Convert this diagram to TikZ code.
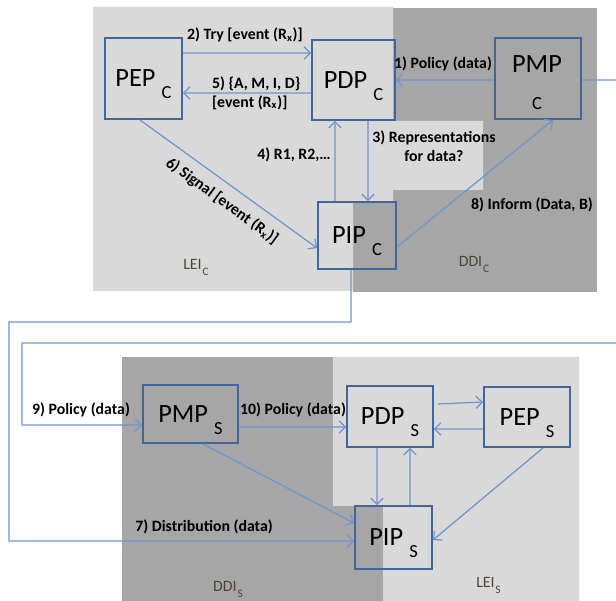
\documentclass[tikz,border=0pt]{standalone}
\usepackage{fontspec}
\setmainfont{Carlito}
\usetikzlibrary{arrows.meta,calc}
\definecolor{lightbg}{HTML}{D9D9D9}
\definecolor{darkbg}{HTML}{A6A6A6}
\definecolor{boxblue}{HTML}{41669C}
\definecolor{linkblue}{HTML}{6E96CF}
\definecolor{regtext}{HTML}{4F4631}
\newcommand\boxsub[1]{\kern3.5pt\smash{\raisebox{-6.8pt}{\fontsize{10.5}{10.5}\selectfont #1}}}
\newcommand\regsub[1]{\kern0.5pt\smash{\raisebox{-3.5pt}{\fontsize{6.5}{7}\selectfont #1}}}
\begin{document}
\begin{tikzpicture}[x=0.02cm,y=-0.02cm,
  agent/.style={draw=boxblue,line width=1.1pt,inner sep=0pt,font=\fontsize{15}{17}\selectfont,text=black},
  conn/.style={draw=linkblue,line width=0.7pt},
  arr/.style={conn,-{Straight Barb[length=3.5pt,width=7pt]}},
  lbl/.style={font=\fontsize{9}{10.8}\selectfont\bfseries,text=black,inner sep=1pt},
  reg/.style={font=\fontsize{9}{10}\selectfont,text=regtext,inner sep=0pt}]
\useasboundingbox (0,0) rectangle (616,601);
% backgrounds top
\fill[darkbg] (353,8) rectangle (597,292);
\fill[lightbg] (93,7) -- (393,7) -- (393,121) -- (483,121) -- (483,190) -- (393,190) -- (393,202) -- (353,202) -- (353,291) -- (93,291) -- cycle;
% backgrounds bottom
\fill[darkbg] (122,357) rectangle (579,601);
\fill[lightbg] (333,357) -- (579,357) -- (579,601) -- (383,601) -- (383,506) -- (333,506) -- cycle;

% nodes top
\node[agent,minimum width=1.54cm,minimum height=1.62cm] (pepc) at (143.5,78.5) {PEP\boxsub{C}};
\node[agent,minimum width=1.66cm,minimum height=1.60cm] (pdpc) at (353.5,80) {PDP\boxsub{C}};
\node[agent,minimum width=1.72cm,minimum height=1.62cm] (pmpc) at (538,78.5) {};
\node[font=\fontsize{15}{17}\selectfont,inner sep=0pt] (pmpct) at (537,64) {PMP};
\node[font=\fontsize{10.5}{10.5}\selectfont,inner sep=0pt] (pmpcs) at (537,104) {C};
\node[agent,minimum width=1.56cm,minimum height=1.34cm] (pipc) at (357,235.5) {PIP\boxsub{C}};

% nodes bottom
\node[agent,minimum width=1.90cm,minimum height=1.16cm] (pmps) at (190.5,414) {PMP\boxsub{S}};
\node[agent,minimum width=1.72cm,minimum height=1.22cm] (pdps) at (390,416.5) {PDP\boxsub{S}};
\node[agent,minimum width=1.72cm,minimum height=1.20cm] (peps) at (527,417) {PEP\boxsub{S}};
\node[agent,minimum width=1.54cm,minimum height=1.26cm] (pips) at (393.5,537.5) {PIP\boxsub{S}};

% region labels
\node[reg] (leic) at (196,264) {LEI\regsub{C}};
\node[reg] (ddic) at (474,261) {DDI\regsub{C}};
\node[reg] (ddis) at (228,586) {DDI\regsub{S}};
\node[reg] (leis) at (488.5,582.5) {LEI\regsub{S}};

% connectors top
\draw[arr] ([yshift=-0.03cm]pmpc.west) -- (pdpc.east);
\draw[arr] ([yshift=0.51cm]pepc.east) -- ([yshift=0.54cm]pdpc.west);
\draw[arr] ([yshift=-0.26cm]pdpc.west) -- ([yshift=-0.29cm]pepc.east);
\draw[arr] ([xshift=0.29cm]pdpc.south) -- ([xshift=0.22cm]pipc.north);
\draw[arr] ([xshift=-0.44cm]pipc.north) -- ([xshift=-0.37cm]pdpc.south);
\draw[arr] ([xshift=-0.07cm]pepc.south) -- ([yshift=-0.25cm]pipc.west);
\draw[arr] ([yshift=-0.23cm]pipc.east) -- ([xshift=0.30cm]pmpc.south);

% wrap connectors
\coordinate (wrapA) at (632,80);
\coordinate (wrapB) at (632,343);
\coordinate (wrapC) at (22,343);
\draw[arr] ([yshift=-0.03cm]pmpc.east) -- (wrapA) -- (wrapB) -- (wrapC) |- ([yshift=-0.22cm]pmps.west);
\coordinate (distA) at (351,322);
\coordinate (distB) at (9,322);
\draw[arr] ([xshift=-0.12cm]pipc.south) -- (distA) -- (distB) |- ([yshift=-0.07cm]pips.west);

% connectors bottom
\draw[arr] ([yshift=-0.26cm]pmps.east) -- ([yshift=-0.21cm]pdps.west);
\draw[arr] ([xshift=0.08cm,yshift=0.25cm]pdps.east) -- ([yshift=0.30cm]peps.west);
\draw[arr] ([yshift=-0.24cm]peps.west) -- ([yshift=-0.25cm]pdps.east);
\draw[arr] ([xshift=-0.26cm]pdps.south) -- ([xshift=-0.33cm]pips.north);
\draw[arr] ([xshift=0.33cm]pips.north) -- ([xshift=0.40cm]pdps.south);
\draw[arr] ([xshift=0.32cm]peps.south) -- ([yshift=-0.05cm]pips.east);
\draw[arr] ([xshift=0.25cm]pmps.south) -- ([yshift=0.29cm]pips.west);

% labels
\node[lbl] (l2) at (245,35) {2) Try [event (R\textsubscript{x})]};
\node[lbl,align=left,anchor=west] (l5) at (210,93) {5) \{A, M, I, D\}\\{[}event (R\textsubscript{x}){]}};
\node[lbl] (l1) at (443,64) {1) Policy (data)};
\node[lbl,align=center] (l3) at (434,146) {3) Representations\\for data?};
\node[lbl] (l4) at (294,155) {4) R1, R2,\dots};
\node[lbl,rotate=-36] (l6) at (222,201) {6) Signal [event (R\textsubscript{x})]};
\node[lbl] (l8) at (532,205) {8) Inform (Data, B)};
\node[lbl] (l9) at (81,410) {9) Policy (data)};
\node[lbl] (l10) at (293,410) {10) Policy (data)};
\node[lbl] (l7) at (204,527) {7) Distribution (data)};
\end{tikzpicture}
\end{document}
